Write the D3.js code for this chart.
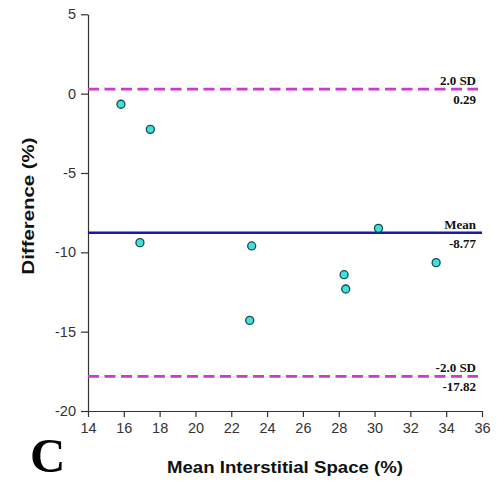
<!DOCTYPE html>
<html><head><meta charset="utf-8">
<script src="https://cdn.jsdelivr.net/npm/d3@7"></script>
<style>body{margin:0;background:#fff}svg{display:block}</style>
</head><body>
<svg id="c" width="499" height="484"></svg>
<script>
const meanX = [15.84, 17.48, 16.9, 23.14, 23.03, 28.3, 28.39, 30.22, 33.44];
const diffY = [-0.67, -2.25, -9.39, -9.6, -14.29, -11.41, -12.31, -8.49, -10.65];
const xTicks = [14,16,18,20,22,24,26,28,30,32,34,36];
const yTicks = [5,0,-5,-10,-15,-20];
const refLines = [
  {name:"2.0 SD", value:0.29, label:"0.29", kind:"sd"},
  {name:"Mean", value:-8.77, label:"-8.77", kind:"mean"},
  {name:"-2.0 SD", value:-17.82, label:"-17.82", kind:"sd"}
];

const svg = d3.select("#c");
const x = d3.scaleLinear().domain([14,36]).range([88,482]);
const y = d3.scaleLinear().domain([-20,5]).range([411,14.3]);

const xa = svg.append("g").attr("transform","translate(0,411)")
  .call(d3.axisBottom(x).tickValues(xTicks).tickFormat(d=>String(d)).tickSize(6).tickPadding(6).tickSizeOuter(0));
const ya = svg.append("g").attr("transform","translate(88,0)")
  .call(d3.axisLeft(y).tickValues(yTicks).tickFormat(d=>String(d)).tickSize(7).tickPadding(5).tickSizeOuter(0));
[xa,ya].forEach(a=>{
  a.selectAll("path,line").attr("stroke","#333").attr("stroke-width",1.2);
  a.selectAll("text").attr("fill","#333").style("font-family","Liberation Sans, Arial, sans-serif").style("font-size","14.5px");
});

// reference lines
refLines.forEach(r=>{
  const yy = y(r.value);
  const ln = svg.append("line").attr("x1",88).attr("y1",yy).attr("y2",yy);
  if(r.kind==="sd"){
    ln.attr("x2",478).attr("stroke","#cc3acc").attr("stroke-width",2.8).attr("stroke-dasharray","11,5.5");
  } else {
    ln.attr("x2",482).attr("stroke","#1a1aa8").attr("stroke-width",2.4);
  }
  svg.append("text").attr("x",476).attr("y",yy-4).attr("text-anchor","end")
    .style("font-family","Liberation Serif, Times New Roman, serif").style("font-weight","bold").style("font-size","13px")
    .attr("fill","#111").text(r.name);
  svg.append("text").attr("x",476).attr("y",yy+15).attr("text-anchor","end")
    .style("font-family","Liberation Serif, Times New Roman, serif").style("font-weight","bold").style("font-size","13px")
    .attr("fill","#111").text(r.label);
});

// points
svg.append("g").selectAll("circle").data(meanX).join("circle")
  .attr("cx",(d)=>x(d)).attr("cy",(d,i)=>y(diffY[i])).attr("r",4)
  .attr("fill","#3ee0e0").attr("stroke","#1d4848").attr("stroke-width",1.3);

// axis titles
svg.append("text").attr("x",285).attr("y",473).attr("text-anchor","middle")
  .attr("textLength",236).attr("lengthAdjust","spacingAndGlyphs")
  .style("font-family","Liberation Sans, Arial, sans-serif").style("font-weight","bold").style("font-size","16.5px")
  .attr("fill","#111").text("Mean Interstitial Space (%)");
svg.append("text").attr("transform","translate(34,206) rotate(-90)").attr("text-anchor","middle")
  .attr("textLength",137).attr("lengthAdjust","spacingAndGlyphs")
  .style("font-family","Liberation Sans, Arial, sans-serif").style("font-weight","bold").style("font-size","16.5px")
  .attr("fill","#111").text("Difference (%)");
svg.append("text").attr("x",30).attr("y",472)
  .style("font-family","Liberation Serif, Times New Roman, serif").style("font-weight","bold").style("font-size","49px")
  .attr("fill","#000").text("C");
</script>
</body></html>
